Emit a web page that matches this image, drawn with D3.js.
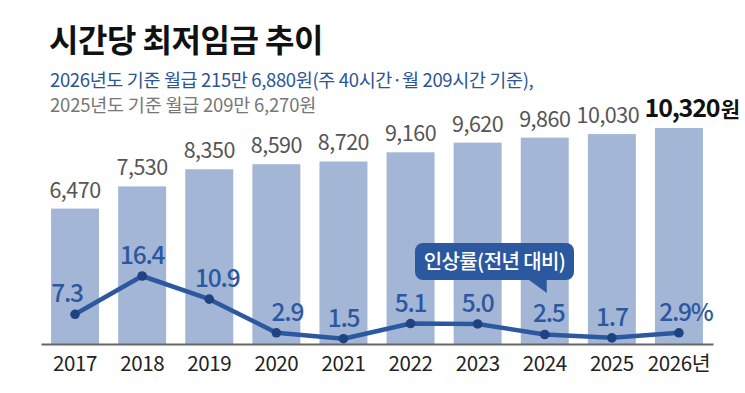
<!DOCTYPE html>
<html>
<head>
<meta charset="utf-8">
<script src="https://cdn.jsdelivr.net/npm/d3@7"></script>
<style>
  body { margin: 0; background: #fff; }
  svg { display: block; font-family: 'Noto Sans CJK KR', 'Noto Sans', sans-serif; }
</style>
</head>
<body>
<script>
// data
var years = ['2017', '2018', '2019', '2020', '2021', '2022', '2023', '2024', '2025', '2026'];
var wages = [6470, 7530, 8350, 8590, 8720, 9160, 9620, 9860, 10030, 10320];
var rates = [7.3, 16.4, 10.9, 2.9, 1.5, 5.1, 5.0, 2.5, 1.7, 2.9];
var rateLabels = ['7.3', '16.4', '10.9', '2.9', '1.5', '5.1', '5.0', '2.5', '1.7', '2.9%'];
// small horizontal nudges for labels, as in the original layout
var rateNudge = [-8, 0, 8, 11, 0, 0, 0, 4, 0, 7];
var wageNudge = [0, 0, 0, 0, 0, 0, 0, 0, -4, 0];

var W = 745, H = 393;
var barColor = '#a4b6d6';
var lineColor = '#2c58a0';
var dotColor = '#1e4382';

var svg = d3.select('body').append('svg')
  .attr('width', W)
  .attr('height', H);

// title and subtitles
svg.append('text')
  .attr('x', 49).attr('y', 52)
  .attr('font-size', 32).attr('font-weight', 700)
  .attr('letter-spacing', -0.5)
  .attr('fill', '#111')
  .text('시간당 최저임금 추이');

svg.append('text')
  .attr('x', 50).attr('y', 87)
  .attr('font-size', 18.5).attr('font-weight', 400)
  .attr('letter-spacing', -0.35)
  .attr('fill', '#2b5595')
  .text('2026년도 기준 월급 215만 6,880원(주 40시간·월 209시간 기준),');

svg.append('text')
  .attr('x', 50).attr('y', 112)
  .attr('font-size', 18.5).attr('font-weight', 400)
  .attr('letter-spacing', -0.2)
  .attr('fill', '#777')
  .text('2025년도 기준 월급 209만 6,270원');

// scales
var x = d3.scaleBand()
  .domain(years)
  .range([41, 713])
  .paddingInner(0.285)
  .paddingOuter(0.15);

var y = d3.scaleLinear()
  .domain([0, 10320])
  .range([344, 128]);

var yRate = d3.scaleLinear()
  .domain([0, 16.4])
  .range([345, 276]);

// bars
svg.append('g')
  .selectAll('rect')
  .data(wages)
  .enter()
  .append('rect')
  .attr('x', function (d, i) { return x(years[i]); })
  .attr('y', function (d) { return y(d); })
  .attr('width', x.bandwidth())
  .attr('height', function (d) { return y(0) - y(d); })
  .attr('fill', barColor);

// bar value labels (all but the last one)
var fmt = d3.format(',');
svg.append('g')
  .selectAll('text')
  .data(wages.slice(0, wages.length - 1))
  .enter()
  .append('text')
  .attr('x', function (d, i) { return x(years[i]) + x.bandwidth() / 2 + wageNudge[i]; })
  .attr('y', function (d) { return y(d) - 11; })
  .attr('text-anchor', 'middle')
  .attr('font-size', 21.5)
  .attr('letter-spacing', -0.5)
  .attr('fill', '#555')
  .text(function (d) { return fmt(d); });

// last value in bold with the unit
var last = wages.length - 1;
var lastCx = x(years[last]) + x.bandwidth() / 2;
var lastNum = svg.append('text')
  .attr('x', lastCx + 3)
  .attr('y', y(wages[last]) - 11)
  .attr('text-anchor', 'middle')
  .attr('font-size', 25)
  .attr('font-weight', 700)
  .attr('letter-spacing', -1.2)
  .attr('fill', '#111')
  .text(fmt(wages[last]));
var nb = lastNum.node().getBBox();
svg.append('text')
  .attr('x', nb.x + nb.width + 1)
  .attr('y', y(wages[last]) - 11)
  .attr('font-size', 21)
  .attr('font-weight', 700)
  .attr('fill', '#111')
  .text('원');

// x axis
var xAxis = d3.axisBottom(x)
  .tickSize(0)
  .tickPadding(12)
  .tickFormat(function (d, i) { return i === years.length - 1 ? d + '년' : d; });

var ax = svg.append('g')
  .attr('transform', 'translate(0,' + y(0) + ')')
  .call(xAxis);
ax.select('.domain')
  .attr('stroke', '#666')
  .attr('stroke-width', 2);
ax.selectAll('text')
  .attr('font-family', "'Noto Sans CJK KR', sans-serif")
  .attr('font-size', 20.5)
  .attr('letter-spacing', -0.4)
  .attr('fill', '#222');

// rate line
var line = d3.line()
  .x(function (d, i) { return x(years[i]) + x.bandwidth() / 2; })
  .y(function (d) { return yRate(d); });

svg.append('path')
  .datum(rates)
  .attr('d', line)
  .attr('fill', 'none')
  .attr('stroke', lineColor)
  .attr('stroke-width', 4.5)
  .attr('stroke-linejoin', 'round');

svg.append('g')
  .selectAll('circle')
  .data(rates)
  .enter()
  .append('circle')
  .attr('cx', function (d, i) { return x(years[i]) + x.bandwidth() / 2; })
  .attr('cy', function (d) { return yRate(d); })
  .attr('r', 4.8)
  .attr('fill', dotColor);

svg.append('g')
  .selectAll('text')
  .data(rates)
  .enter()
  .append('text')
  .attr('x', function (d, i) { return x(years[i]) + x.bandwidth() / 2 + rateNudge[i]; })
  .attr('y', function (d) { return yRate(d) - 12; })
  .attr('text-anchor', 'middle')
  .attr('font-size', 24.5)
  .attr('font-weight', 500)
  .attr('letter-spacing', -1.2)
  .attr('fill', lineColor)
  .text(function (d, i) { return rateLabels[i]; });

// callout bubble
var bx = 415, by = 243, bw = 159, bh = 37;
var tailX = x('2024') + x.bandwidth() / 2;
var callout = svg.append('g');
callout.append('rect')
  .attr('x', bx).attr('y', by)
  .attr('width', bw).attr('height', bh)
  .attr('rx', 8)
  .attr('fill', lineColor);
callout.append('path')
  .attr('d', 'M' + (tailX - 17) + ',' + (by + bh - 1) +
    'L' + (tailX + 2) + ',' + (by + bh - 1) +
    'L' + (tailX + 2) + ',' + (by + bh + 13) + 'Z')
  .attr('fill', lineColor);
callout.append('text')
  .attr('x', bx + bw / 2).attr('y', by + 26)
  .attr('text-anchor', 'middle')
  .attr('font-size', 20)
  .attr('font-weight', 500)
  .attr('letter-spacing', -0.6)
  .attr('fill', '#fff')
  .text('인상률(전년 대비)');
</script>
</body>
</html>
